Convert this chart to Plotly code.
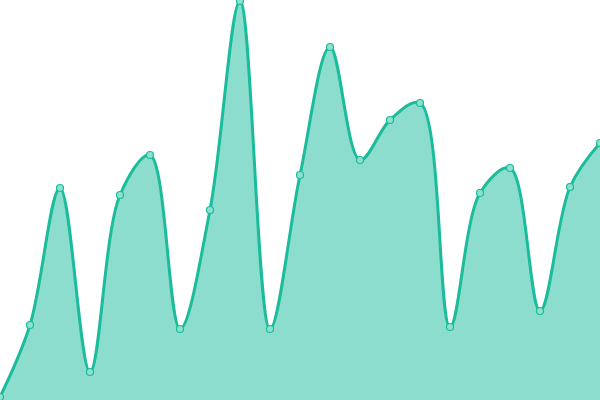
import plotly.graph_objects as go

x_vals = list(range(21))
y_vals = [3, 75, 212, 28, 205, 245, 71, 190, 399, 71, 225, 353, 240, 280, 297, 73, 207, 232, 89, 213, 257]

fig = go.Figure()
fig.add_trace(go.Scatter(
    x=x_vals, y=y_vals,
    mode="lines+markers",
    line=dict(shape="spline", smoothing=1, color="#1abc9c", width=3),
    fill="tozeroy",
    fillcolor="rgba(26,188,156,0.5)",
    marker=dict(size=7, color="#8ee0cf", line=dict(color="#1abc9c", width=1.2)),
    hoverinfo="skip",
    cliponaxis=False,
))
fig.update_layout(
    width=600, height=400,
    margin=dict(l=0, r=0, t=0, b=0),
    paper_bgcolor="white", plot_bgcolor="white",
    showlegend=False,
    xaxis=dict(visible=False, range=[0, 20]),
    yaxis=dict(visible=False, range=[0, 400]),
)
fig.write_html("out.html", config={"displayModeBar": False},
               post_script="document.body.style.margin='0px';document.body.style.overflow='hidden';")
